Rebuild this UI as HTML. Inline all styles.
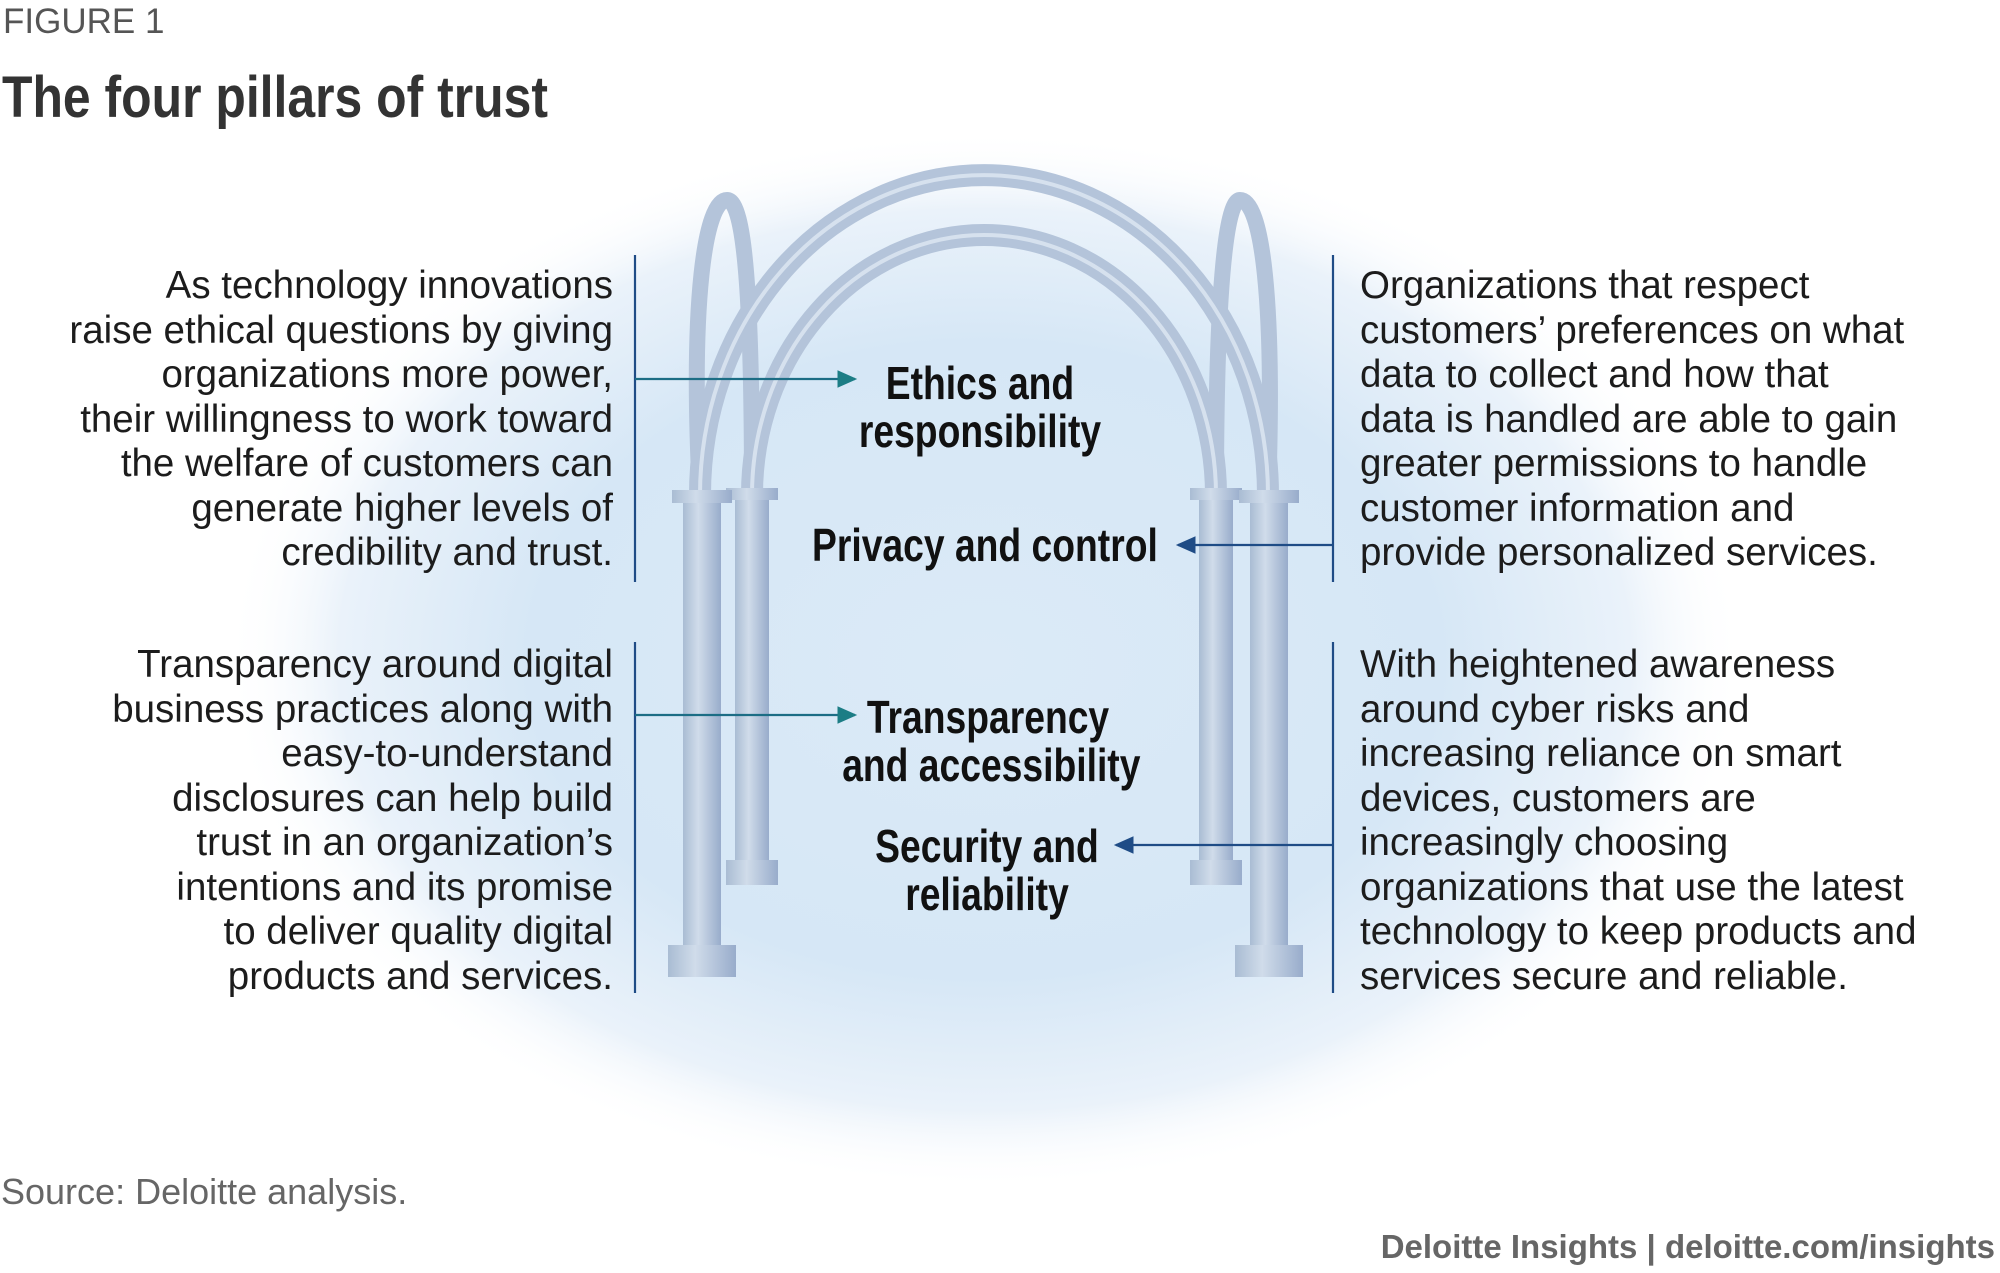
<!DOCTYPE html>
<html><head><meta charset="utf-8"><style>
body{margin:0;width:2000px;height:1273px;background:#fff;position:relative;overflow:hidden;font-family:"Liberation Sans",sans-serif;color:#222}
.t{position:absolute;white-space:nowrap}
.p{font-size:38.5px;line-height:44.5px;color:#1c1c1c}
.lab{font-weight:bold;font-size:46px;line-height:48px;text-align:center;color:#111;position:absolute;white-space:nowrap;transform:scaleX(.81)}
</style></head><body>
<svg width="2000" height="1273" style="position:absolute;left:0;top:0">
<defs>
<radialGradient id="bg" cx="0.5" cy="0.5" r="0.5">
<stop offset="0" stop-color="#dbeaf7"/><stop offset="0.6" stop-color="#d6e7f6"/><stop offset="0.85" stop-color="#eaf2fa"/><stop offset="1" stop-color="#fff" stop-opacity="0"/></radialGradient>
<linearGradient id="col" x1="0" x2="1"><stop offset="0" stop-color="#a9bcd3"/><stop offset="0.4" stop-color="#d0dcea"/><stop offset="1" stop-color="#98accb"/></linearGradient>
<marker id="ah" markerWidth="10" markerHeight="10" refX="8" refY="5" orient="auto"><path d="M0,1 L9,5 L0,9 Z" fill="#1c7d85"/></marker>
<marker id="ah2" markerWidth="10" markerHeight="10" refX="8" refY="5" orient="auto"><path d="M0,1 L9,5 L0,9 Z" fill="#1f4c86"/></marker>
</defs>
<ellipse cx="985" cy="660" rx="760" ry="530" fill="url(#bg)"/>
<g fill="none" stroke="#b4c4da" stroke-width="22" stroke-linecap="round">
<path d="M700,495 A284,320 0 0 1 1268,495"/>
<path d="M752,495 A232,260 0 0 1 1216,495"/>
<path d="M700,495 C690,300 705,200 727,200 C745,200 752,300 752,495" stroke-width="16"/>
<path d="M1216,495 C1216,300 1225,200 1240,200 C1262,200 1275,300 1268,495" stroke-width="16"/>
</g>
<g fill="none" stroke="#d6e1ee" stroke-width="4">
<path d="M700,495 A284,320 0 0 1 1268,495"/>
<path d="M752,495 A232,260 0 0 1 1216,495"/>
</g>
<g fill="url(#col)">
<rect x="735" y="495" width="34" height="380"/><rect x="726" y="488" width="52" height="12"/><rect x="726" y="860" width="52" height="25"/>
<rect x="1199" y="495" width="34" height="380"/><rect x="1190" y="488" width="52" height="12"/><rect x="1190" y="860" width="52" height="25"/>
<rect x="683" y="498" width="38" height="460"/><rect x="672" y="490" width="60" height="13"/><rect x="668" y="945" width="68" height="32"/>
<rect x="1250" y="498" width="38" height="460"/><rect x="1239" y="490" width="60" height="13"/><rect x="1235" y="945" width="68" height="32"/>
</g>
<g stroke-width="2.2" fill="none">
<line x1="635" y1="255" x2="635" y2="582" stroke="#1f4c86"/>
<line x1="635" y1="642" x2="635" y2="993" stroke="#1f4c86"/>
<line x1="1333" y1="255" x2="1333" y2="582" stroke="#1f4c86"/>
<line x1="1333" y1="642" x2="1333" y2="993" stroke="#1f4c86"/>
<line x1="635" y1="379" x2="855" y2="379" stroke="#1c6d85" marker-end="url(#ah)"/>
<line x1="635" y1="715" x2="855" y2="715" stroke="#1c6d85" marker-end="url(#ah)"/>
<line x1="1333" y1="545" x2="1178" y2="545" stroke="#1f4c86" marker-end="url(#ah2)"/>
<line x1="1333" y1="845" x2="1116" y2="845" stroke="#1f4c86" marker-end="url(#ah2)"/>
</g>
</svg>
<div class="t" style="left:3px;top:2px;font-size:35px;color:#555">FIGURE 1</div>
<div class="t" style="left:2px;top:64px;font-weight:bold;font-size:58px;color:#333;transform:scaleX(.86);transform-origin:0 0">The four pillars of trust</div>
<div class="t p" style="right:1387px;top:264px;text-align:right">As technology innovations<br>raise ethical questions by giving<br>organizations more power,<br>their willingness to work toward<br>the welfare of customers can<br>generate higher levels of<br>credibility and trust.</div>
<div class="t p" style="right:1387px;top:643px;text-align:right">Transparency around digital<br>business practices along with<br>easy-to-understand<br>disclosures can help build<br>trust in an organization’s<br>intentions and its promise<br>to deliver quality digital<br>products and services.</div>
<div class="t p" style="left:1360px;top:264px">Organizations that respect<br>customers’ preferences on what<br>data to collect and how that<br>data is handled are able to gain<br>greater permissions to handle<br>customer information and<br>provide personalized services.</div>
<div class="t p" style="left:1360px;top:643px">With heightened awareness<br>around cyber risks and<br>increasing reliance on smart<br>devices, customers are<br>increasingly choosing<br>organizations that use the latest<br>technology to keep products and<br>services secure and reliable.</div>
<div class="lab" style="left:830px;width:300px;top:359px">Ethics and<br>responsibility</div>
<div class="lab" style="left:774px;width:400px;top:521px">Privacy and control</div>
<div class="lab" style="left:808px;width:360px;top:693px">Transparency<br>and accessibility</div>
<div class="lab" style="left:837px;width:300px;top:822px">Security and<br>reliability</div>
<div class="t" style="left:1px;top:1171px;font-size:36px;color:#666">Source: Deloitte analysis.</div>
<div class="t" style="right:5px;top:1228px;font-size:33px;font-weight:bold;color:#666">Deloitte Insights | deloitte.com/insights</div>
</body></html>
